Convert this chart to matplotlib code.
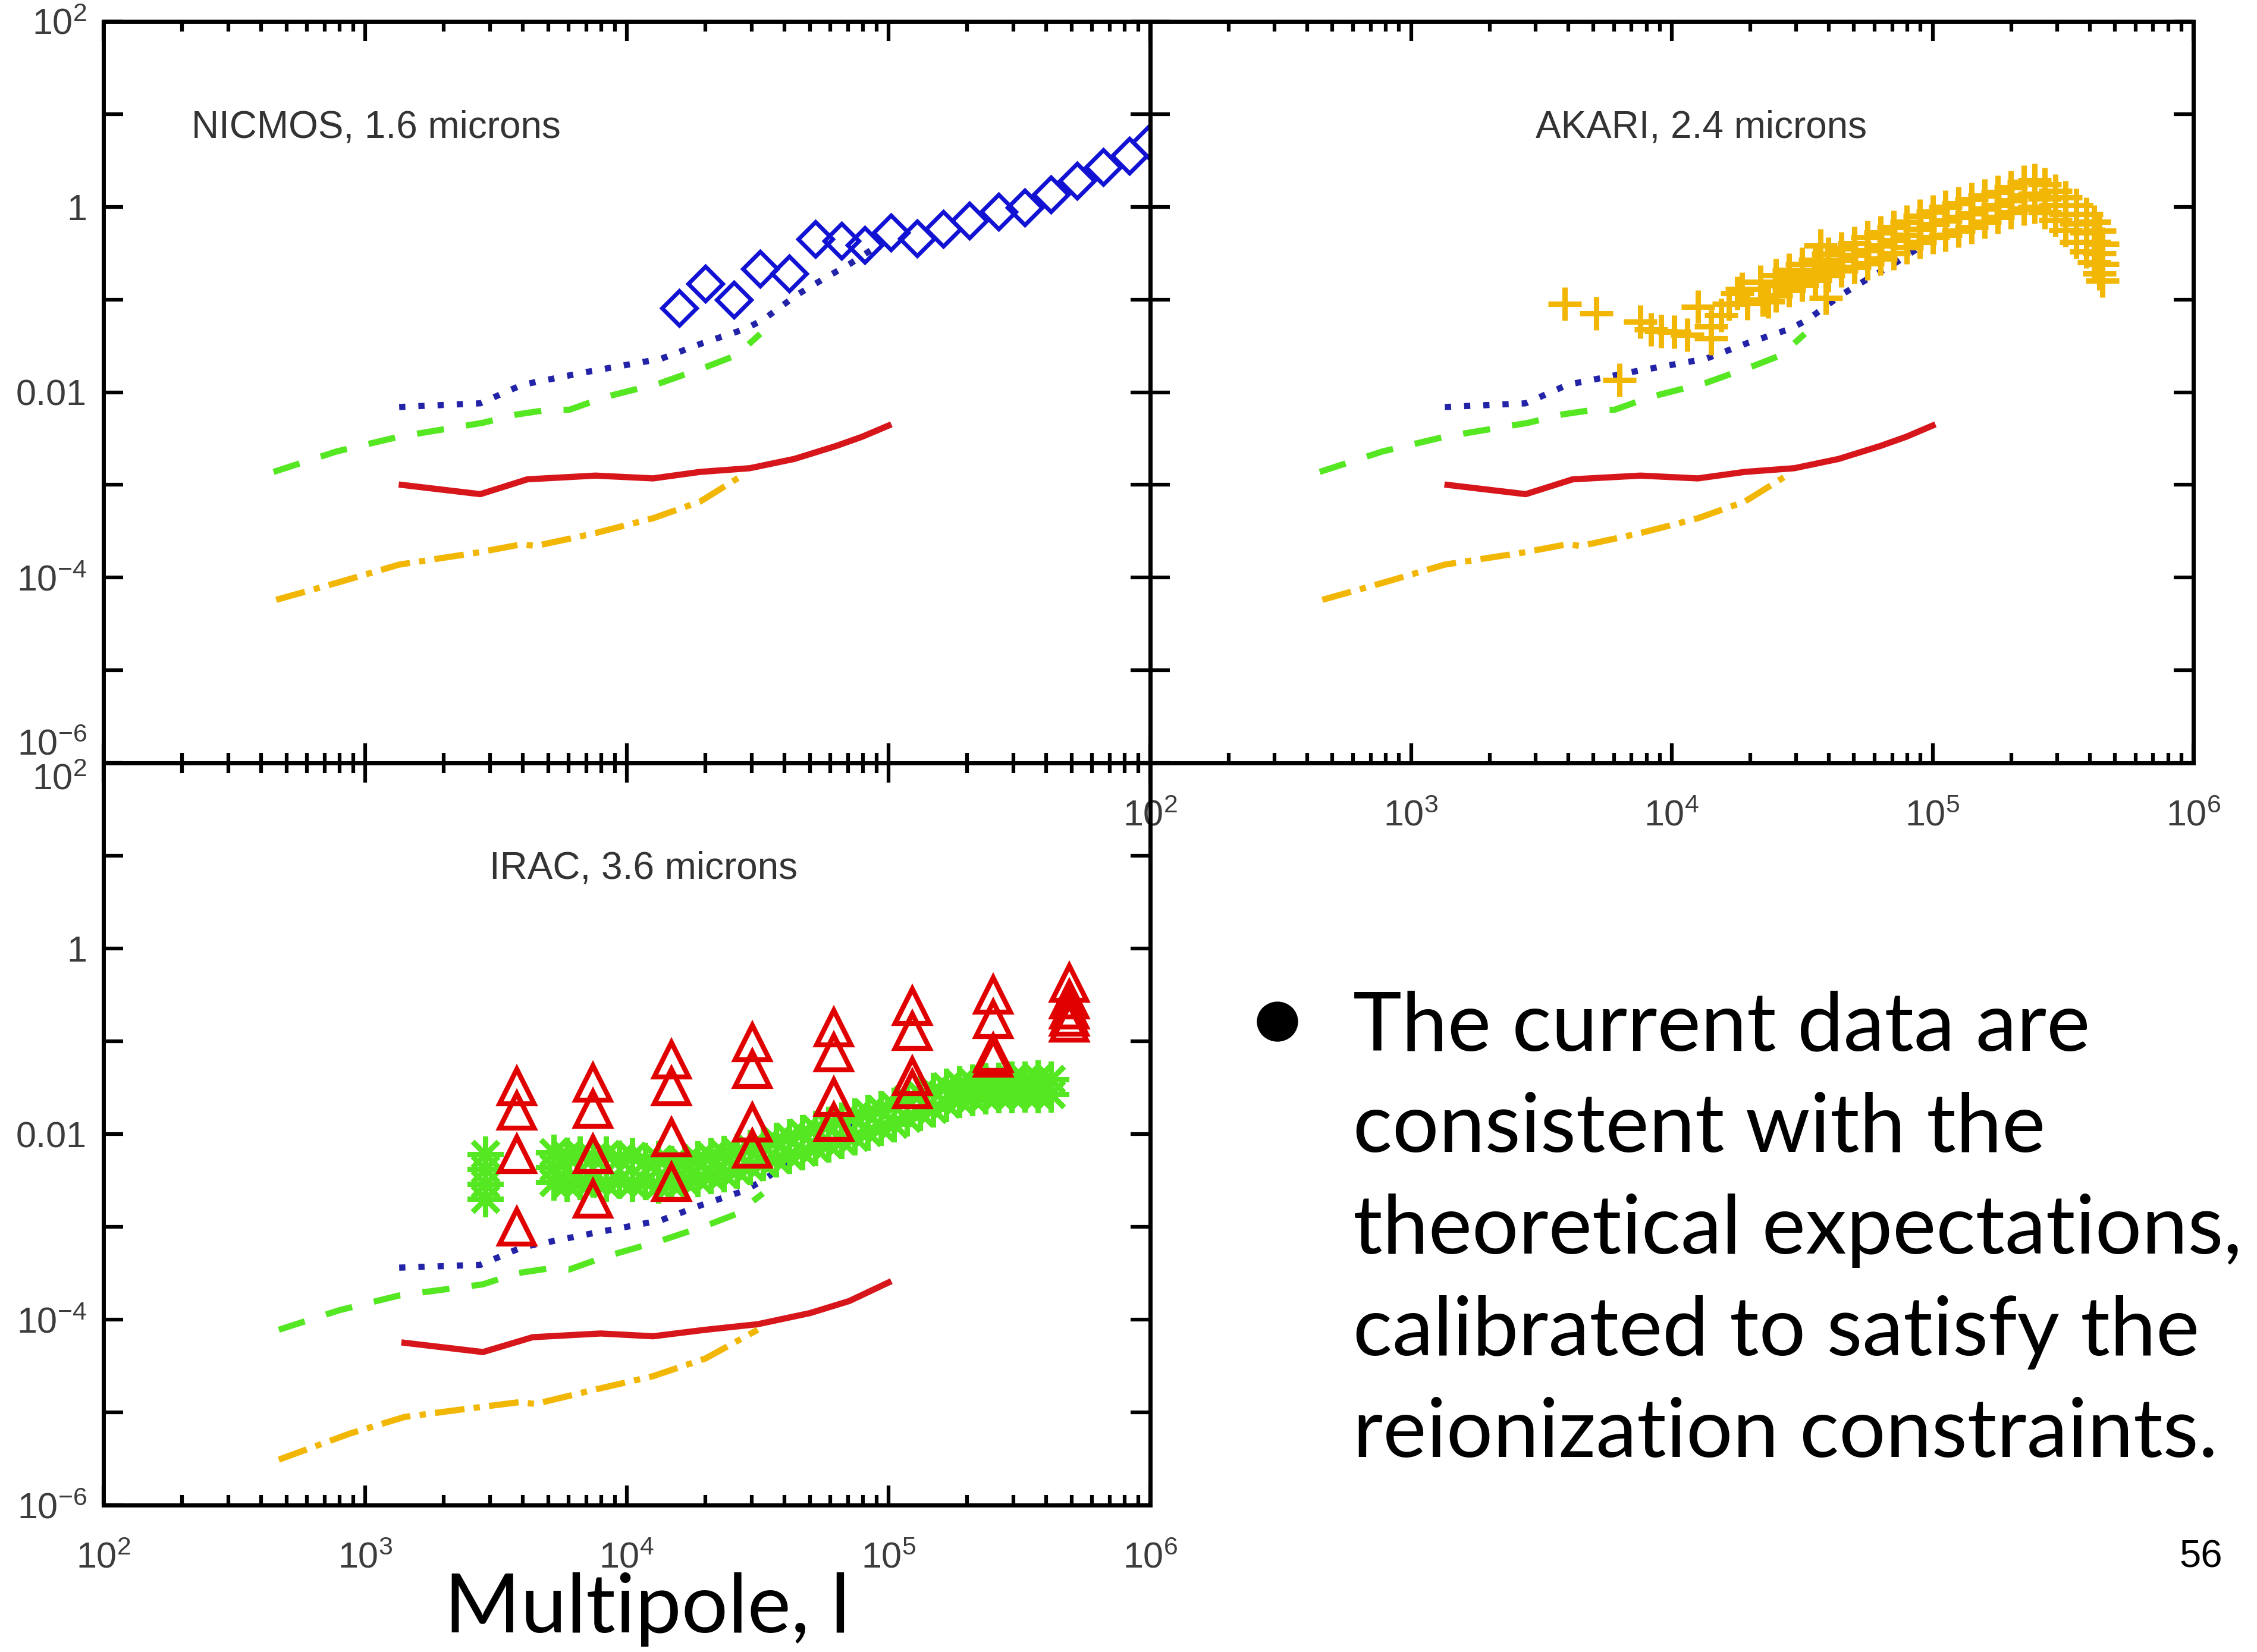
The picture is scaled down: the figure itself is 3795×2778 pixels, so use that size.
import numpy as np
import matplotlib
matplotlib.use('Agg')
from matplotlib import pyplot as plt
from matplotlib.patches import Ellipse
from matplotlib.ticker import FixedLocator, NullLocator, LogLocator, NullFormatter

plt.rcParams['mathtext.fontset'] = 'custom'
plt.rcParams['mathtext.rm'] = 'Liberation Sans'
plt.rcParams['mathtext.it'] = 'Liberation Sans'

# ---- axis ticks / labels ----
x_ticks = [1e2, 1e3, 1e4, 1e5, 1e6]
x_labels = ['10$^{2}$', '10$^{3}$', '10$^{4}$', '10$^{5}$', '10$^{6}$']
y_ticks = [1e-6, 1e-5, 1e-4, 1e-3, 1e-2, 1e-1, 1, 1e1, 1e2]
y_labels = ['10$^{-6}$', '', '10$^{-4}$', '', '0.01', '', '1', '', '10$^{2}$']
panel_names = ['NICMOS, 1.6 microns', 'AKARI, 2.4 microns', 'IRAC, 3.6 microns']

# ---- model curves (log10 l, log10 power), upper panels ----
red_logl = [3.14, 3.44, 3.62, 3.88, 4.10, 4.28, 4.47, 4.64, 4.80, 4.90, 5.00]
red_logp = [-3.00, -3.10, -2.94, -2.90, -2.93, -2.86, -2.82, -2.72, -2.58, -2.48, -2.36]
orange_logl = [2.66, 2.90, 3.13, 3.43, 3.60, 3.65, 3.88, 4.10, 4.28, 4.44]
orange_logp = [-4.24, -4.05, -3.86, -3.73, -3.64, -3.66, -3.52, -3.36, -3.18, -2.90]
green_logl = [2.65, 2.89, 3.13, 3.45, 3.58, 3.70, 3.78, 3.92, 4.13, 4.31, 4.42, 4.51]
green_logp = [-2.86, -2.64, -2.48, -2.33, -2.24, -2.19, -2.19, -2.05, -1.90, -1.72, -1.60, -1.37]
blue_logl = [3.13, 3.44, 3.60, 3.85, 4.13, 4.29, 4.45, 4.52, 4.65, 4.75, 4.85, 4.97]
blue_logp = [-2.16, -2.12, -1.92, -1.78, -1.64, -1.47, -1.32, -1.22, -0.95, -0.78, -0.62, -0.40]

# ---- model curves, IRAC panel ----
irac_red_logl = [3.15, 3.45, 3.64, 3.90, 4.10, 4.30, 4.50, 4.70, 4.85, 5.00]
irac_red_logp = [-4.25, -4.35, -4.19, -4.15, -4.18, -4.11, -4.05, -3.93, -3.80, -3.60]
irac_orange_logl = [2.67, 2.94, 3.15, 3.42, 3.59, 3.65, 3.87, 4.10, 4.30, 4.50]
irac_orange_logp = [-5.51, -5.23, -5.05, -4.95, -4.89, -4.91, -4.76, -4.61, -4.42, -4.11]
irac_green_logl = [2.67, 2.90, 3.13, 3.45, 3.58, 3.70, 3.78, 3.92, 4.13, 4.31, 4.42, 4.52]
irac_green_logp = [-4.11, -3.90, -3.74, -3.62, -3.50, -3.45, -3.46, -3.32, -3.15, -2.98, -2.86, -2.64]
irac_blue_logl = [3.13, 3.44, 3.60, 3.85, 4.13, 4.29, 4.45, 4.52, 4.65, 4.75, 4.85, 4.97]
irac_blue_logp = [-3.44, -3.41, -3.22, -3.08, -2.93, -2.76, -2.61, -2.50, -2.24, -2.06, -1.90, -1.68]

# ---- NICMOS diamonds ----
nicmos_logl = [4.20, 4.30, 4.41, 4.51, 4.62, 4.72, 4.82, 4.91, 5.01, 5.11, 5.21, 5.31,
               5.42, 5.52, 5.62, 5.72, 5.82, 5.92, 6.00]
nicmos_logp = [-1.09, -0.83, -1.00, -0.67, -0.72, -0.35, -0.37, -0.41, -0.28, -0.34, -0.24, -0.15,
               -0.05, -0.01, 0.13, 0.28, 0.43, 0.55, 0.70]

# ---- AKARI crosses ----
akari_logl = [3.59, 3.71, 3.80, 3.88, 3.92, 3.96, 4.01, 4.06, 4.10, 4.15, 4.15, 4.19, 4.22,
              4.25, 4.27, 4.29, 4.34, 4.35, 4.37, 4.57, 4.59,
              4.40, 4.40, 4.40, 4.45, 4.45, 4.45, 4.50, 4.50, 4.50, 4.55, 4.55, 4.55,
              4.60, 4.60, 4.60, 4.65, 4.65, 4.65, 4.70, 4.70, 4.70, 4.75, 4.75, 4.75,
              4.80, 4.80, 4.80, 4.85, 4.85, 4.85, 4.90, 4.90, 4.90, 4.95, 4.95, 4.95,
              5.00, 5.00, 5.00, 5.05, 5.05, 5.05, 5.10, 5.10, 5.10, 5.15, 5.15, 5.15,
              5.20, 5.20, 5.20, 5.25, 5.25, 5.25, 5.30, 5.30, 5.30, 5.35, 5.35, 5.35,
              5.39, 5.39, 5.39, 5.43, 5.43, 5.43, 5.47, 5.47, 5.47, 5.51, 5.51, 5.51,
              5.55, 5.55, 5.55, 5.59, 5.59, 5.59, 5.62, 5.62, 5.62, 5.64, 5.64, 5.64,
              5.65, 5.65, 5.65]
akari_logp = [-1.05, -1.15, -1.87, -1.24, -1.32, -1.34, -1.35, -1.38, -1.08, -1.42, -1.29, -1.17, -1.05,
              -0.93, -0.89, -1.04, -0.81, -1.00, -1.02, -0.42, -0.98,
              -0.74, -0.85, -0.96, -0.68, -0.79, -0.90, -0.62, -0.73, -0.84, -0.57, -0.68, -0.79,
              -0.51, -0.63, -0.74, -0.45, -0.57, -0.69, -0.39, -0.52, -0.65, -0.33, -0.47, -0.61,
              -0.28, -0.42, -0.56, -0.22, -0.36, -0.50, -0.16, -0.30, -0.44, -0.10, -0.24, -0.38,
              -0.05, -0.19, -0.33, 0.00, -0.15, -0.30, 0.04, -0.11, -0.26, 0.08, -0.07, -0.22,
              0.12, -0.02, -0.16, 0.16, 0.02, -0.11, 0.21, 0.07, -0.06, 0.27, 0.12, -0.02,
              0.29, 0.14, 0.00, 0.24, 0.09, -0.06, 0.17, 0.02, -0.14, 0.10, -0.08, -0.25,
              0.02, -0.18, -0.38, -0.08, -0.28, -0.48, -0.16, -0.38, -0.60, -0.26, -0.50, -0.72,
              -0.40, -0.62, -0.80]

# ---- IRAC triangles ----
tri_logl = [3.58, 3.58, 3.58, 3.58, 3.87, 3.87, 3.87, 3.87, 4.17, 4.17, 4.17, 4.17,
            4.48, 4.48, 4.48, 4.48, 4.79, 4.79, 4.79, 4.79, 5.09, 5.09, 5.09, 5.09,
            5.40, 5.40, 5.40, 5.40, 5.69, 5.69, 5.69, 5.69, 5.69]
tri_logp = [-1.49, -1.75, -2.22, -3.00, -1.45, -1.73, -2.22, -2.70, -1.20, -1.49, -2.04, -2.52,
            -1.01, -1.30, -1.88, -2.16, -0.85, -1.12, -1.60, -1.87, -0.62, -0.89, -1.38, -1.52,
            -0.50, -0.76, -1.13, -1.18, -0.37, -0.55, -0.66, -0.74, -0.80]

# ---- IRAC asterisks ----
ast_logl = [3.46, 3.46, 3.46, 3.46, 3.72, 3.72, 3.72,
            3.77, 3.77, 3.82, 3.82, 3.87, 3.87, 3.92, 3.92, 3.97, 3.97, 4.02, 4.02,
            4.07, 4.07, 4.12, 4.12, 4.17, 4.17, 4.22, 4.22, 4.27, 4.27, 4.32, 4.32,
            4.37, 4.37, 4.42, 4.42, 4.47, 4.47, 4.52, 4.52, 4.57, 4.57, 4.62, 4.62,
            4.67, 4.67, 4.72, 4.72, 4.77, 4.77, 4.82, 4.82, 4.87, 4.87, 4.92, 4.92,
            4.97, 4.97, 5.02, 5.02, 5.07, 5.07, 5.12, 5.12, 5.17, 5.17, 5.22, 5.22,
            5.27, 5.27, 5.32, 5.32, 5.37, 5.37, 5.42, 5.42, 5.47, 5.47, 5.52, 5.52,
            5.57, 5.57, 5.62, 5.62]
ast_logp = [-2.22, -2.38, -2.54, -2.70, -2.20, -2.36, -2.52,
            -2.23, -2.53, -2.22, -2.51, -2.25, -2.49, -2.22, -2.53, -2.26, -2.50, -2.24, -2.53,
            -2.29, -2.51, -2.27, -2.55, -2.32, -2.53, -2.30, -2.50, -2.27, -2.48, -2.24, -2.45,
            -2.21, -2.43, -2.19, -2.39, -2.15, -2.35, -2.12, -2.31, -2.07, -2.27, -2.03, -2.23,
            -1.99, -2.19, -1.94, -2.15, -1.90, -2.11, -1.85, -2.07, -1.81, -2.03, -1.77, -1.98,
            -1.73, -1.93, -1.69, -1.89, -1.63, -1.83, -1.57, -1.77, -1.53, -1.73, -1.49, -1.67,
            -1.46, -1.63, -1.44, -1.61, -1.43, -1.59, -1.42, -1.58, -1.41, -1.58, -1.41, -1.57,
            -1.40, -1.58, -1.41, -1.57]

bullet_lines = ['The current data are', 'consistent with the', 'theoretical expectations,',
                'calibrated to satisfy the', 'reionization constraints.']

RED = '#d7161b'
ORANGE = '#f2b705'
GREEN = '#55e822'
BLUE = '#2323a8'
DIAMOND = '#1212d2'
TRIANGLE = '#e00000'
TICKGRAY = '#3c3c3c'
LW = 7.5

W, H = 3795, 2778
fig = plt.figure(figsize=(W / 100, H / 100), dpi=100)
fig.patch.set_facecolor('white')


def px_axes(left, top, right, bottom):
    return fig.add_axes([left / W, 1 - bottom / H, (right - left) / W, (bottom - top) / H])


def L(a):
    return np.power(10.0, np.array(a))


def setup(ax, xlab=True, ylab=True):
    ax.set_xscale('log')
    ax.set_yscale('log')
    ax.set_xlim(1e2, 1e6)
    ax.set_ylim(1e-6, 1e2)
    ax.set_facecolor('none')
    ax.xaxis.set_major_locator(FixedLocator(x_ticks))
    ax.xaxis.set_minor_locator(LogLocator(base=10, subs=np.arange(2, 10)))
    ax.xaxis.set_minor_formatter(NullFormatter())
    ax.set_xticks(x_ticks, x_labels if xlab else [''] * len(x_ticks))
    ax.set_yticks(y_ticks, y_labels if ylab else [''] * len(y_ticks))
    ax.yaxis.set_minor_locator(NullLocator())
    for s in ax.spines.values():
        s.set_linewidth(5)
    ax.tick_params(which='both', direction='in', top=True, right=True, width=4.5,
                   color='black', labelsize=44, labelcolor=TICKGRAY)
    ax.tick_params(which='major', length=24)
    ax.tick_params(which='minor', length=12)
    ax.tick_params(axis='x', pad=44)
    ax.tick_params(axis='y', pad=20)
    for lab in ax.get_xticklabels() + ax.get_yticklabels():
        lab.set_family('Liberation Sans')


def theory(ax, red, orange, green, blue):
    ax.plot(L(green[0]), L(green[1]), color=GREEN, lw=LW, ls=(0, (4.4, 3.6)), zorder=2)
    ax.plot(L(blue[0]), L(blue[1]), color=BLUE, lw=LW, ls=(0, (1, 2.1)), zorder=2)
    ax.plot(L(orange[0]), L(orange[1]), color=ORANGE, lw=LW, ls=(0, (4.8, 1.5, 1, 1.5)), zorder=2)
    ax.plot(L(red[0]), L(red[1]), color=RED, lw=LW, zorder=3)


top_models = ((red_logl, red_logp), (orange_logl, orange_logp),
              (green_logl, green_logp), (blue_logl, blue_logp))
irac_models = ((irac_red_logl, irac_red_logp), (irac_orange_logl, irac_orange_logp),
               (irac_green_logl, irac_green_logp), (irac_blue_logl, irac_blue_logp))

label_style = dict(fontsize=46, color='#333333', family='Liberation Sans', va='center')

# NICMOS
ax1 = px_axes(174, 36, 1934, 1283)
setup(ax1, xlab=False)
theory(ax1, *top_models)
ax1.plot(L(nicmos_logl), L(nicmos_logp), ls='none', marker='D', ms=30, mfc='none',
         mec=DIAMOND, mew=5, zorder=4)
ax1.text(0.084, 0.857, panel_names[0], transform=ax1.transAxes, ha='left', **label_style)

# AKARI
ax2 = px_axes(1934, 36, 3688, 1283)
setup(ax2, ylab=False)
theory(ax2, *top_models)
ax2.plot(L(akari_logl), L(akari_logp), ls='none', marker='+', ms=41, mec=ORANGE,
         mew=6.5, zorder=4)
ax2.text(0.528, 0.857, panel_names[1], transform=ax2.transAxes, ha='center', **label_style)

# IRAC
ax3 = px_axes(174, 1283, 1934, 2531)
setup(ax3)
theory(ax3, *irac_models)
ax3.plot(L(ast_logl), L(ast_logp), ls='none', marker=(8, 2, 0), ms=44, mec=GREEN,
         mew=6.5, zorder=4)
ax3.plot(L(tri_logl), L(tri_logp), ls='none', marker='^', ms=42, mfc='none',
         mec=TRIANGLE, mew=6, zorder=5)
ax3.text(0.516, 0.858, panel_names[2], transform=ax3.transAxes, ha='center', **label_style)

# separate the touching 10^-6 / 10^2 labels the way the original does
ax1.yaxis.get_major_ticks()[0].label1.set_verticalalignment('bottom')
ax3.yaxis.get_major_ticks()[-1].label1.set_verticalalignment('top')

# ---- slide text ----
body_font = 'Lato'
renderer = fig.canvas.get_renderer()
probe = fig.text(0, 0, bullet_lines[2], fontsize=100, family=body_font)
body_size = 100 * 1495 / probe.get_window_extent(renderer).width
probe.remove()

for i, line in enumerate(bullet_lines):
    fig.text(2275 / W, 1 - (1766 + 171 * i) / H, line, ha='left', va='baseline',
             fontsize=body_size, family=body_font, color='black')
fig.add_artist(Ellipse((2148 / W, 1 - 1718 / H), 68 / W, 66 / H, transform=fig.transFigure,
                       color='black'))

fig.text(1088 / W, 1 - 2745 / H, 'Multipole, l', ha='center', va='baseline',
         fontsize=body_size, family=body_font, color='black')
fig.text(3701 / W, 1 - 2618 / H, '56', ha='center', va='center', fontsize=47,
         family='Liberation Sans', color='black')

fig.savefig('out.png', dpi=100)
